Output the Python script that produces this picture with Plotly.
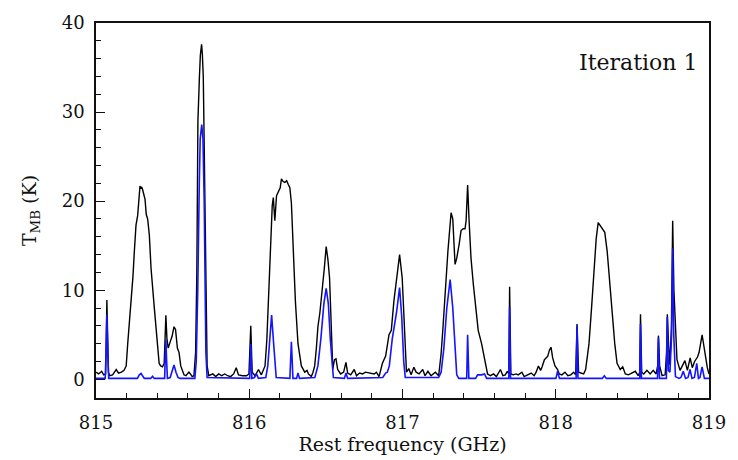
import plotly.graph_objects as go

# Observed spectrum (black)
freq_obs = [815.000, 815.017, 815.037, 815.050, 815.063, 815.071, 815.081, 815.089, 815.108, 815.132,
            815.147, 815.166, 815.183, 815.197, 815.207, 815.218, 815.229, 815.241, 815.250, 815.261,
            815.272, 815.280, 815.287, 815.293, 815.298, 815.304, 815.320, 815.328, 815.337, 815.348,
            815.359, 815.380, 815.401, 815.412, 815.422, 815.434, 815.445, 815.456, 815.463, 815.471,
            815.484, 815.496, 815.509, 815.519, 815.531, 815.542, 815.553, 815.574, 815.587, 815.606,
            815.616, 815.628, 815.639, 815.650, 815.658, 815.665, 815.675, 815.681, 815.689, 815.694,
            815.700, 815.704, 815.710, 815.717, 815.725, 815.736, 815.762, 815.781, 815.801, 815.820,
            815.840, 815.859, 815.878, 815.898, 815.915, 815.930, 815.956, 815.982, 815.998, 816.010,
            816.019, 816.038, 816.060, 816.079, 816.103, 816.115, 816.124, 816.134, 816.142, 816.150,
            816.157, 816.167, 816.178, 816.194, 816.202, 816.210, 816.221, 816.232, 816.244, 816.254,
            816.265, 816.275, 816.286, 816.301, 816.318, 816.340, 816.362, 816.377, 816.386, 816.405,
            816.416, 816.427, 816.438, 816.448, 816.461, 816.474, 816.490, 816.502, 816.513, 816.524,
            816.534, 816.545, 816.556, 816.566, 816.577, 816.596, 816.616, 816.631, 816.642, 816.662,
            816.685, 816.700, 816.720, 816.739, 816.759, 816.785, 816.815, 816.830, 816.847, 816.869,
            816.890, 816.912, 816.927, 816.944, 816.966, 816.981, 816.998, 817.013, 817.026, 817.041,
            817.056, 817.074, 817.089, 817.108, 817.132, 817.147, 817.166, 817.186, 817.214, 817.236,
            817.252, 817.263, 817.274, 817.296, 817.317, 817.328, 817.343, 817.354, 817.369, 817.382,
            817.396, 817.408, 817.415, 817.425, 817.434, 817.447, 817.462, 817.477, 817.494, 817.516,
            817.537, 817.555, 817.574, 817.594, 817.613, 817.639, 817.655, 817.671, 817.684, 817.694,
            817.699, 817.707, 817.723, 817.742, 817.755, 817.779, 817.794, 817.813, 817.840, 817.859,
            817.872, 817.887, 817.901, 817.911, 817.926, 817.948, 817.959, 817.969, 817.980, 817.995,
            818.012, 818.023, 818.040, 818.060, 818.079, 818.098, 818.117, 818.130, 818.139, 818.149,
            818.163, 818.182, 818.195, 818.217, 818.234, 818.249, 818.264, 818.277, 818.292, 818.307,
            818.320, 818.336, 818.351, 818.368, 818.385, 818.400, 818.421, 818.437, 818.454, 818.474,
            818.493, 818.519, 818.538, 818.548, 818.553, 818.561, 818.574, 818.595, 818.616, 818.636,
            818.655, 818.665, 818.670, 818.678, 818.694, 818.714, 818.723, 818.728, 818.736, 818.745,
            818.755, 818.763, 818.771, 818.782, 818.791, 818.811, 818.826, 818.843, 818.859, 818.877,
            818.891, 818.906, 818.925, 818.935, 818.955, 818.972, 818.989, 819.000]
tmb_obs = [0.8, 0.6, 0.9, 0.5, 0.6, 8.9, 0.8, 0.4, 0.5, 1.1,
           0.7, 0.8, 1.0, 1.5, 4.0, 6.5, 8.1, 11.5, 14.3, 17.3,
           18.4, 20.5, 21.7, 21.4, 21.6, 21.3, 20.2, 18.5, 18.0, 16.2,
           12.5, 8.1, 3.7, 1.8, 1.5, 1.4, 1.8, 7.2, 4.5, 3.5,
           4.2, 4.8, 5.9, 5.6, 3.5, 3.0, 1.5, 0.5, 0.4, 0.8,
           0.6, 0.3, 0.4, 3.0, 12.0, 29.0, 34.0, 36.4, 37.6, 36.5,
           34.0, 29.0, 18.0, 8.0, 1.5, 0.4, 0.6, 0.3, 0.6, 0.4,
           0.6, 0.4, 0.3, 0.6, 1.3, 0.5, 0.4, 0.4, 0.6, 6.0,
           0.8, 0.4, 1.1, 0.5, 1.5, 4.5, 8.8, 13.0, 16.2, 19.5,
           20.4, 17.8, 20.6, 21.1, 21.5, 22.5, 22.2, 22.1, 22.3, 21.9,
           21.5, 19.8, 14.3, 8.8, 4.0, 1.5, 0.8, 1.0, 0.6, 0.3,
           0.8, 1.5, 3.5, 5.9, 7.5, 9.5, 12.5, 14.9, 13.5, 11.4,
           5.1, 1.1, 2.2, 2.3, 1.1, 0.6, 0.8, 1.9, 0.7, 0.5,
           1.1, 0.4, 0.7, 0.6, 0.8, 0.7, 0.6, 0.8, 0.3, 1.8,
           2.6, 5.0, 5.5, 8.8, 12.1, 14.0, 11.4, 5.1, 0.8, 1.2,
           0.5, 1.35, 0.8, 0.6, 1.1, 0.4, 0.9, 0.4, 0.8, 0.4,
           2.9, 5.5, 8.8, 14.3, 18.7, 18.0, 12.9, 13.6, 15.1, 16.7,
           16.9, 16.9, 17.8, 21.8, 18.0, 13.6, 10.7, 8.1, 5.5, 4.0,
           2.2, 0.6, 0.4, 0.6, 0.3, 1.1, 0.4, 0.5, 0.9, 0.6,
           10.4, 0.6, 0.5, 0.6, 0.5, 0.8, 0.3, 0.5, 0.7, 0.4,
           0.8, 1.5, 1.0, 1.4, 2.2, 2.6, 3.3, 3.6, 2.4, 1.5,
           1.1, 0.6, 0.5, 0.8, 0.4, 0.5, 0.8, 0.5, 6.2, 0.8,
           0.7, 0.6, 1.1, 4.0, 8.1, 12.1, 15.8, 17.6, 17.2, 16.7,
           16.5, 14.3, 11.0, 7.3, 4.0, 1.8, 1.1, 1.4, 0.6, 0.5,
           0.7, 0.9, 0.4, 0.8, 7.3, 0.8, 0.6, 1.0, 0.6, 1.0,
           0.6, 1.5, 4.9, 1.5, 0.4, 0.5, 3.0, 7.3, 4.0, 1.6,
           6.0, 17.8, 10.0, 4.5, 2.2, 1.0, 1.5, 2.1, 1.0, 2.4,
           1.3, 2.0, 2.5, 3.0, 5.0, 3.1, 1.3, 0.6]

# Model spectrum (blue)
freq_mod = [815.000, 815.060, 815.066, 815.071, 815.077, 815.083, 815.270, 815.283, 815.294, 815.305,
            815.315, 815.357, 815.369, 815.380, 815.448, 815.451, 815.456, 815.461, 815.466, 815.484,
            815.496, 815.509, 815.522, 815.535, 815.548, 815.645, 815.654, 815.664, 815.674, 815.680,
            815.690, 815.698, 815.706, 815.710, 815.717, 815.725, 816.003, 816.010, 816.017, 816.034,
            816.047, 816.060, 816.108, 816.121, 816.134, 816.146, 816.157, 816.167, 816.176, 816.265,
            816.275, 816.285, 816.309, 816.318, 816.328, 816.428, 816.448, 816.467, 816.487, 816.502,
            816.516, 816.529, 816.540, 816.549, 816.621, 816.631, 816.642, 816.871, 816.890, 816.901,
            816.914, 816.933, 816.961, 816.981, 816.995, 817.008, 817.018, 817.236, 817.252, 817.270,
            817.289, 817.311, 817.328, 817.341, 817.354, 817.367, 817.419, 817.425, 817.433, 817.477,
            817.490, 817.516, 817.535, 817.549, 817.694, 817.699, 817.705, 818.001, 818.012, 818.024,
            818.133, 818.139, 818.145, 818.304, 818.317, 818.330, 818.548, 818.553, 818.559, 818.664,
            818.670, 818.677, 818.722, 818.728, 818.735, 818.745, 818.756, 818.763, 818.770, 818.781,
            818.804, 818.817, 818.832, 818.847, 818.863, 818.876, 818.889, 818.905, 818.920, 818.931,
            818.941, 818.955, 818.970, 819.000]
tmb_mod = [0.1, 0.1, 3.0, 7.3, 3.0, 0.1, 0.1, 0.5, 0.65, 0.3,
           0.1, 0.1, 0.35, 0.1, 0.1, 2.0, 4.4, 2.0, 0.1, 0.2,
           0.8, 1.6, 0.8, 0.2, 0.1, 0.1, 2.0, 10.0, 22.0, 27.0,
           28.6, 27.0, 20.0, 10.0, 3.0, 0.2, 0.1, 4.0, 0.1, 0.2,
           0.6, 0.1, 0.2, 1.5, 4.5, 7.2, 4.5, 1.5, 0.2, 0.1,
           4.2, 0.1, 0.1, 0.7, 0.1, 0.2, 1.5, 4.5, 8.5, 10.2,
           8.5, 4.5, 1.5, 0.2, 0.1, 0.7, 0.1, 0.2, 0.7, 0.8,
           1.5, 4.5, 7.5, 10.3, 7.0, 2.0, 0.2, 0.2, 0.8, 3.5,
           8.0, 11.2, 8.0, 3.5, 0.5, 0.1, 0.1, 5.0, 0.1, 0.1,
           0.5, 0.5, 0.6, 0.1, 0.1, 8.1, 0.1, 0.1, 0.9, 0.1,
           0.1, 6.0, 0.1, 0.1, 0.4, 0.1, 0.1, 6.2, 0.1, 0.1,
           4.7, 0.1, 0.1, 7.0, 1.0, 0.8, 5.0, 14.7, 5.0, 0.3,
           0.1, 0.2, 0.9, 0.1, 0.2, 1.1, 0.1, 0.2, 1.8, 0.1,
           0.2, 1.4, 0.1, 0.1]

x_ticks = [815, 816, 817, 818, 819]
y_ticks = [0, 10, 20, 30, 40]

FONT = "DejaVu Serif"

fig = go.Figure()
fig.add_trace(go.Scatter(x=freq_obs, y=tmb_obs, mode="lines",
                         line=dict(color="#000000", width=1.4), showlegend=False))
fig.add_trace(go.Scatter(x=freq_mod, y=tmb_mod, mode="lines",
                         line=dict(color="#1414ff", width=1.6), showlegend=False))

fig.update_layout(
    width=738, height=460,
    margin=dict(l=96, r=24, t=20, b=58),
    paper_bgcolor="white", plot_bgcolor="white",
    font=dict(family=FONT, size=18, color="#111111"),
    xaxis=dict(range=[815, 819], tickvals=x_ticks, ticktext=[str(v) for v in x_ticks],
               ticks="inside", ticklen=9, tickwidth=1.2, tickcolor="#111",
               minor=dict(dtick=0.2, tick0=815, ticks="inside", ticklen=5, tickwidth=1.2, tickcolor="#111"),
               showline=True, linecolor="#111", linewidth=1.6, mirror=True,
               showgrid=False, zeroline=False, ticklabelstandoff=8,
               title=dict(text="Rest frequency (GHz)", font=dict(size=19), standoff=1)),
    yaxis=dict(range=[-2.1, 40], tickvals=y_ticks, ticktext=[str(v) for v in y_ticks],
               ticks="inside", ticklen=9, tickwidth=1.2, tickcolor="#111",
               minor=dict(dtick=2, tick0=0, ticks="inside", ticklen=5, tickwidth=1.2, tickcolor="#111"),
               showline=True, linecolor="#111", linewidth=1.6, mirror=True,
               showgrid=False, zeroline=False, ticklabelstandoff=6,
               title=dict(text="T<sub>MB</sub> (K)", font=dict(size=19), standoff=20)),
    annotations=[dict(text="Iteration 1", xref="paper", yref="paper", x=0.984, y=0.895,
                      xanchor="right", yanchor="middle", showarrow=False,
                      font=dict(family=FONT, size=22, color="#111"))],
)

fig.write_html("out.html")
